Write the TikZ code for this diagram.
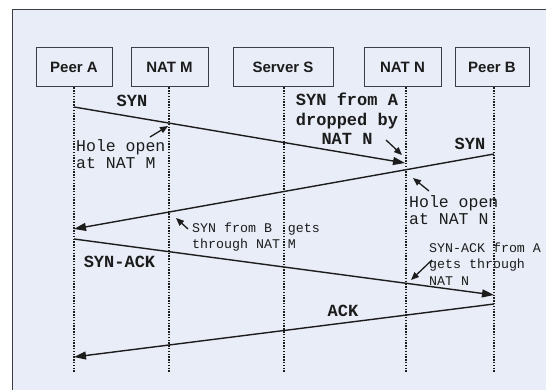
\documentclass[tikz,border=0pt]{standalone}
\usepackage{fontspec}
\setmainfont{Liberation Sans}
\newfontfamily\monofam{Liberation Mono}
\usetikzlibrary{arrows.meta}
\definecolor{panel}{RGB}{232,237,248}
\definecolor{ink}{RGB}{28,28,28}
\definecolor{frame}{RGB}{60,62,70}
\tikzset{
  entity/.style={draw=frame, line width=1pt, fill=panel, minimum height=39pt,
    inner sep=0pt, text=ink, font=\fontsize{15}{15}\selectfont\bfseries},
  lifeline/.style={draw=ink, line width=1.3pt, dash pattern=on 1.4pt off 1.4pt},
  msg/.style={draw=ink, line width=1.4pt, -{Triangle[length=12pt,width=8pt]}},
  pointer/.style={draw=ink, line width=1.3pt, -{Triangle[length=8pt,width=6.5pt]}},
  msglabel/.style={text=ink, inner sep=0pt, font=\monofam\bfseries\fontsize{17}{19.5}\selectfont},
  holelabel/.style={text=ink, inner sep=0pt, align=left, font=\monofam\fontsize{16.5}{17}\selectfont},
  smalllabel/.style={text=ink, inner sep=0pt, align=left, font=\monofam\fontsize{13.3}{16.5}\selectfont},
}
\begin{document}
\begin{tikzpicture}[x=1pt,y=-1pt]
\useasboundingbox (0,0) rectangle (546,390);
% background panel, running off the right and bottom edges
\begin{scope}
\clip (0,0) rectangle (546,390);
\fill[white] (0,0) rectangle (546,390);
\draw[draw=frame, line width=1pt, fill=panel] (12,10) rectangle (560,400);
\end{scope}

% participants
\node[entity, minimum width=76pt]  (pa) at (74,67.5)  {Peer A};
\node[entity, minimum width=77pt]  (nm) at (169.5,67.5) {NAT M};
\node[entity, minimum width=100pt] (ss) at (283,67.5) {Server S};
\node[entity, minimum width=77pt]  (nn) at (402.5,67.5) {NAT N};
\node[entity, minimum width=74pt]  (pb) at (492,67.5) {Peer B};

% lifeline ends
\coordinate (paEnd) at (74,373);
\coordinate (nmEnd) at (169,373);
\coordinate (ssEnd) at (284,373);
\coordinate (nnEnd) at (406,373);
\coordinate (pbEnd) at (494,373);

\draw[lifeline] (pa.south) -- (paEnd);
\draw[lifeline] ([xshift=-0.5pt]nm.south) -- (nmEnd);
\draw[lifeline] ([xshift=1pt]ss.south) -- (ssEnd);
\draw[lifeline] ([xshift=3.5pt]nn.south) -- (nnEnd);
\draw[lifeline] ([xshift=2pt]pb.south) -- (pbEnd);

% message end points on the lifelines
\coordinate (synAout) at (74,107);
\coordinate (synAin)  at (405,163);
\coordinate (synBout) at (494,154);
\coordinate (synBin)  at (74,229);
\coordinate (sackOut) at (74,239);
\coordinate (sackIn)  at (494,295);
\coordinate (ackOut)  at (494,304);
\coordinate (ackIn)   at (74,357);

% messages
\draw[msg] (synAout) -- (synAin);
\draw[msg] (synBout) -- (synBin);
\draw[msg] (sackOut) -- (sackIn);
\draw[msg] (ackOut) -- (ackIn);

% message labels
\node[msglabel] (lSynA) at (132,101) {SYN};
\node[msglabel] (lSynB) at (470,144) {SYN};
\node[msglabel] (lSack) at (119.5,262) {SYN-ACK};
\node[msglabel] (lAck)  at (343,311) {ACK};

% remarks
\node[holelabel, anchor=north west] (holeM) at (76,139) {Hole open\\at NAT M};
\node[msglabel, align=center] (drop) at (347,119) {SYN from A\\dropped by\\NAT N};
\node[holelabel, anchor=north west] (holeN) at (409,195) {Hole open\\at NAT N};
\node[smalllabel, anchor=north west] (passM) at (192,222.5) {SYN from B\ \ gets\\through NAT M};
\node[smalllabel, anchor=north west] (passN) at (429,242.5) {SYN-ACK from A\\gets through\\NAT N};

% pointers from remarks to the lifelines
\coordinate (tHoleM) at (150,137);  \coordinate (pHoleM) at (168,126);
\coordinate (tDrop)  at (386,140);  \coordinate (pDrop)  at (402,155);
\coordinate (tHoleN) at (429,191);  \coordinate (pHoleN) at (413,178);
\coordinate (tPassM) at (188,229);  \coordinate (pPassM) at (176,218);
\coordinate (tPassN) at (432,260);  \coordinate (pPassN) at (411,280);
\draw[pointer] (tHoleM) -- (pHoleM);
\draw[pointer] (tDrop) -- (pDrop);
\draw[pointer] (tHoleN) -- (pHoleN);
\draw[pointer] (tPassM) -- (pPassM);
\draw[pointer] (tPassN) -- (pPassN);
\end{tikzpicture}
\end{document}
